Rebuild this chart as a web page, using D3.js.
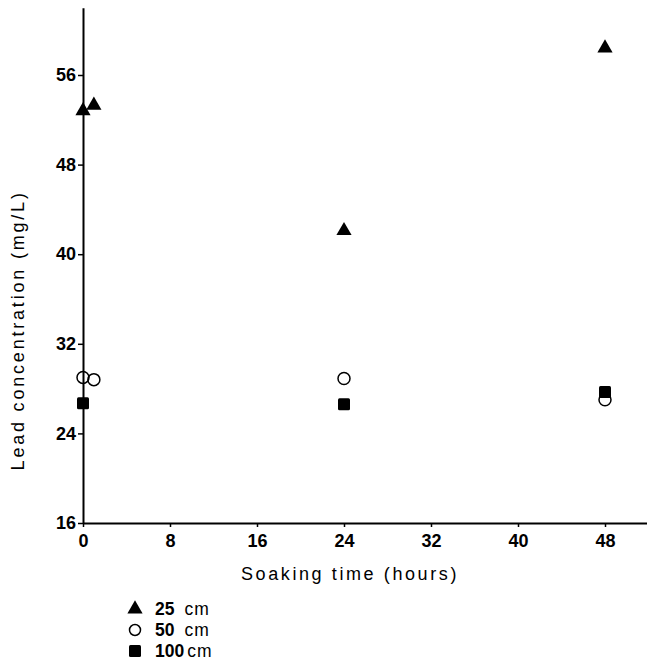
<!DOCTYPE html>
<html><head><meta charset="utf-8">
<script src="https://cdn.jsdelivr.net/npm/d3@7"></script>
<style>body{margin:0;background:#fff}svg{display:block}</style>
</head><body>
<svg id="c" width="647" height="664"></svg>
<script>
const xTicks = [0, 8, 16, 24, 32, 40, 48];
const yTicks = [16, 24, 32, 40, 48, 56];
const series = ["25 cm", "50 cm", "100 cm"];
const hours25 = [0, 1, 24, 48];
const lead25 = [52.8, 53.3, 42.1, 58.4];
const hours50 = [0, 1, 24, 48];
const lead50 = [29.0, 28.8, 28.9, 27.0];
const hours100 = [0, 24, 48];
const lead100 = [26.7, 26.6, 27.7];

const svg = d3.select("#c");
const x = d3.scaleLinear().domain([0, 52]).range([83, 648.5]);
const y = d3.scaleLinear().domain([16, 62]).range([523, 7.8]);
const font = "'Liberation Sans', Arial, Helvetica, sans-serif";

// axes
const xa = svg.append("g").attr("transform", `translate(0,${y(16)})`)
  .call(d3.axisBottom(x).tickValues(xTicks).tickSize(4).tickPadding(6).tickSizeOuter(0));
const ya = svg.append("g").attr("transform", `translate(${x(0)},0)`)
  .call(d3.axisLeft(y).tickValues(yTicks).tickSize(5).tickPadding(2).tickSizeOuter(0));
[xa, ya].forEach(a => {
  a.select(".domain").attr("stroke", "#000").attr("stroke-width", 2);
  a.selectAll(".tick line").attr("stroke", "#000").attr("stroke-width", 1.5);
  a.selectAll(".tick text").attr("fill", "#000").attr("font-family", font)
    .attr("font-weight", "bold").attr("font-size", 18);
});
xa.selectAll(".tick text").attr("dy", "0.75em");

// axis titles
svg.append("text").attr("x", 350).attr("y", 580).attr("text-anchor", "middle")
  .attr("font-family", font).attr("font-size", 18).attr("letter-spacing", 2.6)
  .attr("fill", "#000").text("Soaking time  (hours)");
svg.append("text").attr("transform", `translate(24,${y(33.2)}) rotate(-90)`)
  .attr("text-anchor", "middle").attr("font-family", font).attr("font-size", 18)
  .attr("letter-spacing", 2.8).attr("fill", "#000").text("Lead concentration  (mg/L)");

const tri = d3.symbol().type(d3.symbolTriangle).size(100);
const g = svg.append("g");
g.selectAll(".s100").data(hours100.map((h, i) => [h, lead100[i]])).join("rect")
  .attr("x", d => x(d[0]) - 6).attr("y", d => y(d[1]) - 6)
  .attr("width", 12).attr("height", 12).attr("rx", 1.5).attr("fill", "#000");
g.selectAll(".s50").data(hours50.map((h, i) => [h, lead50[i]])).join("circle")
  .attr("cx", d => x(d[0])).attr("cy", d => y(d[1])).attr("r", 6)
  .attr("fill", "none").attr("stroke", "#000").attr("stroke-width", 1.5);
g.selectAll(".s25").data(hours25.map((h, i) => [h, lead25[i]])).join("path")
  .attr("d", tri).attr("transform", d => `translate(${x(d[0])},${y(d[1])})`)
  .attr("fill", "#000");

// legend
const ly = [609, 630, 651];
const lg = svg.append("g");
lg.append("path").attr("d", tri).attr("transform", `translate(135,${ly[0]})`).attr("fill", "#000");
lg.append("circle").attr("cx", 135).attr("cy", ly[1]).attr("r", 5.5).attr("fill", "none")
  .attr("stroke", "#000").attr("stroke-width", 1.5);
lg.append("rect").attr("x", 129).attr("y", ly[2] - 6).attr("width", 12).attr("height", 12)
  .attr("rx", 1.5).attr("fill", "#000");
series.forEach((s, i) => {
  const [num, unit] = s.split(" ");
  const t = lg.append("text").attr("x", 155).attr("y", ly[i] + 6)
    .attr("font-family", font).attr("font-size", 17.5).attr("fill", "#000");
  t.append("tspan").attr("font-weight", "bold").text(num);
  t.append("tspan").attr("dx", i === 2 ? 3 : 10).attr("letter-spacing", 1).text(unit);
});
</script>
</body></html>
